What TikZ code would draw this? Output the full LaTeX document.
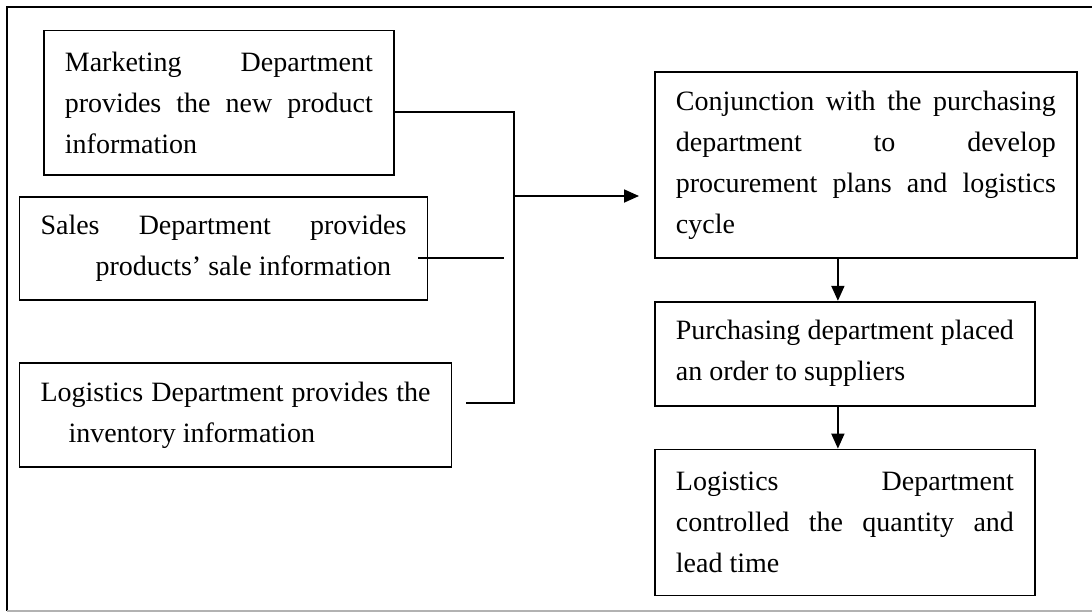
\documentclass[tikz,border=0pt]{standalone}
\usepackage{fontspec}
\setmainfont{Liberation Serif}
\usepackage{tikz}
\usetikzlibrary{arrows.meta,positioning,calc}
\setlength{\parindent}{0pt}
\hbadness=10000

\begin{document}
\begin{tikzpicture}[x=0.5pt, y=-0.5pt, line width=0.9pt,
    box/.style={draw, anchor=north west, align=justify, inner xsep=10.5pt, inner ysep=0pt,
      font=\fontsize{14pt}{20.5pt}\selectfont},
    flow/.style={-{Triangle[length=7.5pt,width=6.5pt]}}]
      \useasboundingbox (0,0) rectangle (1092,612);
      % outer frame, its right side runs off the page
      \draw (1092,7) -- (7,7) -- (7,611);
      \draw[black!30] (7,611) -- (1092,611);

      \node[box, text width=154pt, minimum height=72.25pt] (mkt) at (43,29.5) {Marketing Department\linebreak provides the new product\linebreak information};
      \node[box, text width=183pt, minimum height=51.5pt] (sales) at (18.6,196) {Sales Department provides\linebreak\hspace*{27.5pt}products' sale information};
      \node[box, text width=195pt, minimum height=52pt] (inv) at (18.6,362) {Logistics Department provides the\linebreak\hspace*{14pt}inventory information};

      \node[box, text width=190pt, minimum height=93pt] (conj) at (654,71) {Conjunction with the purchasing\linebreak department to develop\linebreak procurement plans and logistics\linebreak cycle};
      \node[box, text width=169pt, minimum height=52pt, below=21pt of conj.south west, anchor=north west] (purch) {Purchasing department placed\linebreak an order to suppliers};
      \node[box, text width=169pt, minimum height=73pt, below=21pt of purch.south west, anchor=north west] (ctrl) {Logistics Department\linebreak controlled the quantity and\linebreak lead time};

      \coordinate (bus top) at (514,112);
      \coordinate (bus mid) at (514,196);
      \coordinate (bus end) at (514,403);
      \coordinate (inv end) at (466,403);
      \coordinate (sale end) at (504,258);

      \draw (mkt.east |- bus top) -- (bus top) -- (bus end) -- (inv end);
      \draw ($(sales.east |- sale end)+(-10,0)$) -- (sale end);
      \draw[flow, shorten >=7.5pt] (bus mid) -- (conj.west |- bus mid);
      \draw[flow] ($(purch.north |- conj.south)+(-7,0)$) -- ($(purch.north)+(-7,0)$);
      \draw[flow] ($(ctrl.north |- purch.south)+(-7,0)$) -- ($(ctrl.north)+(-7,0)$);
\end{tikzpicture}
\end{document}
